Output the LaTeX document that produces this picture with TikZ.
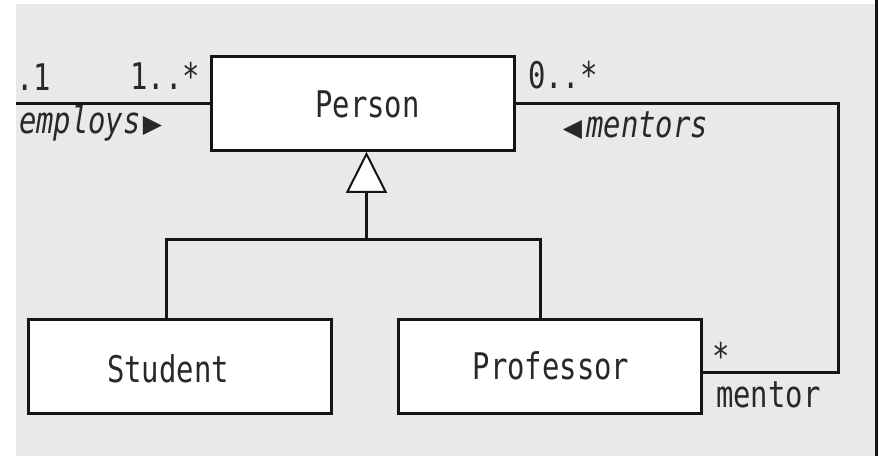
\documentclass[tikz,border=0pt]{standalone}
\usepackage{fontspec}
\usepackage{graphicx}
\usetikzlibrary{arrows.meta}
\newfontfamily\umlmono{DejaVu Sans Mono}
\newfontfamily\umlsym{DejaVu Sans}
\definecolor{bg}{RGB}{232,233,232}
\definecolor{ink}{RGB}{20,20,20}
\definecolor{txt}{RGB}{40,40,40}
\newcommand\umlt[1]{\scalebox{1}[1.27]{#1}}
\newcommand\umltri[1]{{\umlsym\fontsize{25}{25}\selectfont\raisebox{1pt}{#1}}}
\begin{document}
\begin{tikzpicture}[x=1pt,y=-1pt,
  box/.style={draw=ink, line width=3pt, fill=white, minimum width=303pt, minimum height=94pt, inner sep=0pt},
  lbl/.style={inner sep=0pt, outer sep=0pt, text=txt, font=\fontsize{28.9}{30}\umlmono},
  conn/.style={draw=ink, line width=3pt}]
\useasboundingbox (0,0) rectangle (880,456);
\fill[bg] (16,4) rectangle (875,456);
\fill[ink] (875,0) rectangle (878.3,456);

\node[box] (person) at (362.7,103.3) {};
\node[box] (student) at (179.8,366.3) {};
\node[box] (professor) at (549.7,366.2) {};

\coordinate (empEnd) at (16,103.3);
\draw[conn] (person.west) -- (empEnd);

\coordinate (mTop) at (838,103.3);
\coordinate (mBot) at (838,372);
\draw[conn] (person.east) -- (mTop) -- (mBot) -- (professor.east |- mBot);

\coordinate (hs) at (166.7,239.2);
\coordinate (hp) at (540.7,239.2);
\coordinate (hg) at (366.5,239.2);
\draw[conn] (hs |- student.north) -- (hs) -- (hp) -- (hp |- professor.north);
\draw[conn, -{Triangle[length=41pt, width=41pt, line width=2pt, fill=white]}] (hg) -- (hg |- person.south);

\node[lbl, anchor=base east] (lblA) at (51,90) {\umlt{.1}};
\node[lbl, anchor=base east] (lblB) at (200,89) {\umlt{1..*}};
\node[lbl, anchor=base west] (lblEmp) at (19,133) {\umlt{\itshape employs}\hspace{2pt}\umltri{▶}};
\node[lbl, anchor=base west] (lblC) at (528,88) {\umlt{0..*}};
\node[lbl, anchor=base east] (lblMentors) at (708,137) {\umltri{◀}\hspace{4pt}\umlt{\itshape mentors}};
\node[lbl, anchor=base west] (lblStar) at (712,369) {\umlt{*}};
\node[lbl, anchor=base west] (lblMentor) at (716,407) {\umlt{mentor}};
\node[lbl, anchor=base] (tPerson) at (367.5,117) {\umlt{Person}};
\node[lbl, anchor=base] (tStudent) at (168,382) {\umlt{Student}};
\node[lbl, anchor=base] (tProf) at (551,379) {\umlt{Professor}};
\end{tikzpicture}
\end{document}
